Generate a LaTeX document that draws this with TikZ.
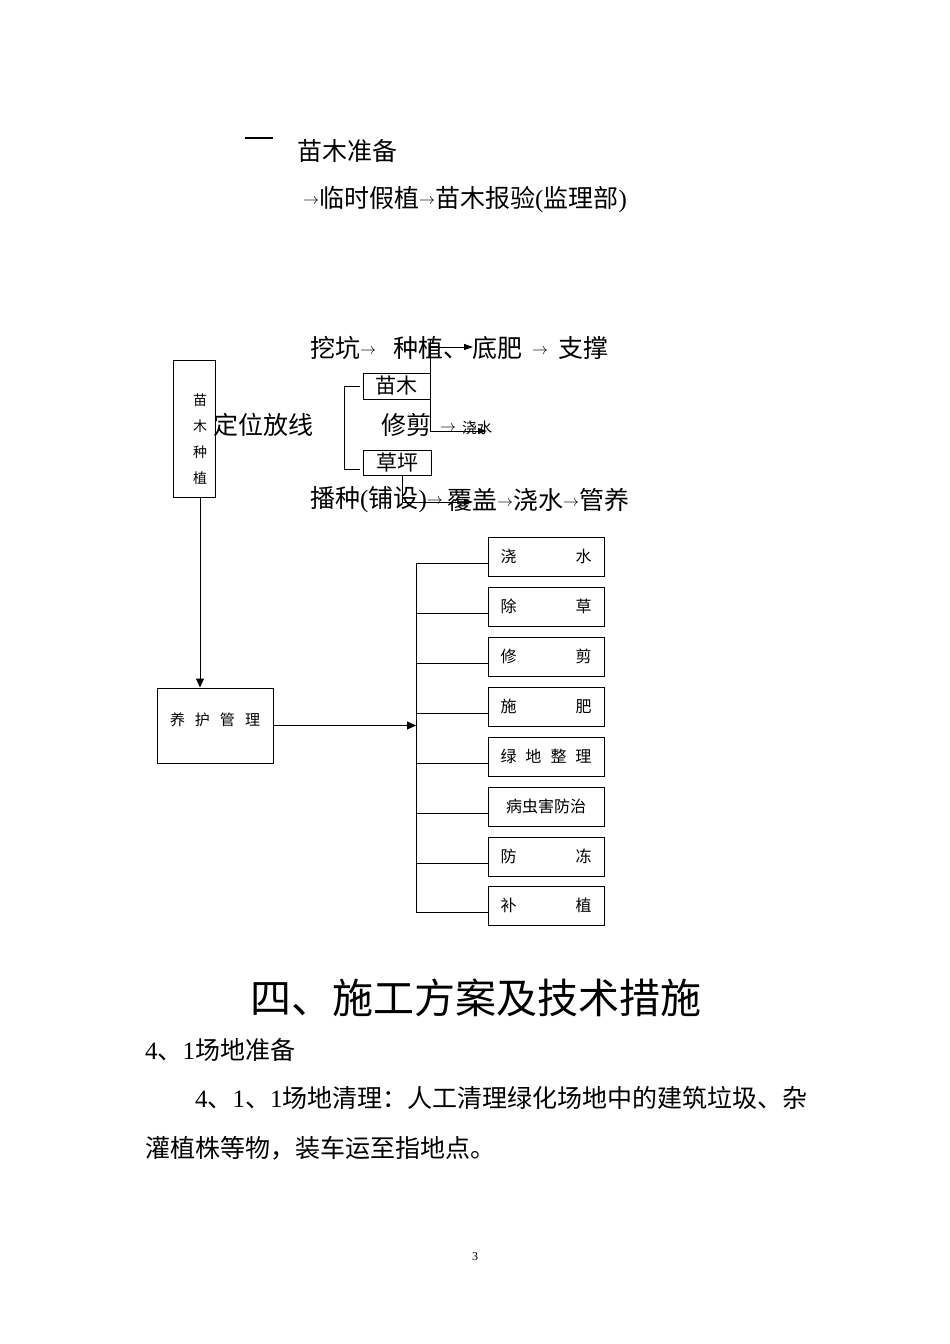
\documentclass[tikz,border=0pt]{standalone}
\usepackage{fontspec}
\usepackage{graphicx}
\setmainfont{Noto Sans CJK SC}
\newfontfamily\lat{Liberation Serif}
\usetikzlibrary{arrows.meta}
\newcommand\sar{\raisebox{3pt}{\scalebox{1.6}{\fontsize{10}{10}\selectfont$\rightarrow$}}}
\begin{document}
\begin{tikzpicture}[x=1pt,y=-1pt,
  txt/.style={anchor=west,inner sep=0pt,font=\fontsize{25}{25}\selectfont},
  box/.style={draw,line width=1pt,inner sep=0pt},
  ln/.style={line width=1pt},
  arr/.style={line width=1pt,-{Triangle[length=9pt,width=8pt]}},
  sarr/.style={line width=1pt,-{Triangle[length=9pt,width=6pt]}},
  mbox/.style={box,minimum width=116pt,minimum height=39pt,text width=91pt,align=left,font=\fontsize{16}{16}\selectfont}]
\useasboundingbox[fill=white] (0,0) rectangle (950,1344);

% top lines
\draw[line width=1.3pt] (245,138) -- (273,138);
\node[txt] (t1) at (297,151) {苗木准备};
\node[txt] (t2) at (303,200) {\sar 临时假植\sar 苗木报验{\lat (}监理部{\lat )}};

% planting flow
\node[txt] (l1a) at (310,348) {挖坑\sar};
\node[txt] (l1b) at (393,348) {种植、};
\node[txt] (l1c) at (472,348) {底肥\hspace{10pt}\sar\hspace{10pt}支撑};
\node[txt] (dw) at (213,425) {定位放线};
\node[txt] (xj) at (381,425) {修剪\hspace{9pt}\sar};
\node[anchor=west,inner sep=0pt,font=\fontsize{15}{15}\selectfont] (js) at (462,428) {浇水};
\node[txt] (l3a) at (310,500) {播种{\lat (}铺设{\lat )}\sar};
\node[txt] (l3b) at (447,500) {覆盖\sar 浇水\sar 管养};

\node[box,minimum width=42pt,minimum height=137pt] (mz) at (194,428.5) {};
\node[inner sep=0pt,font=\fontsize{14}{26}\selectfont,align=center] (mzt) at (200,439) {苗\\木\\种\\植};

\node[box,minimum width=67pt,minimum height=26pt,font=\fontsize{21}{21}\selectfont] (mm) at (396.5,386) {苗木};
\node[box,minimum width=68pt,minimum height=25pt,font=\fontsize{21}{21}\selectfont] (cp) at (397,462.5) {草坪};

\draw[ln] ([xshift=-3pt]mm.west) -- ++(-15,0) |- ([xshift=-3pt,yshift=-7pt]cp.west);
\draw[ln] (mm.east |- 0,340) -- (mm.east |- 0,432);
\coordinate (dfpt) at (473,347);
\draw[sarr] (mm.east |- dfpt) -- (dfpt);
\coordinate (jspt) at (487,431);
\draw[sarr] (mm.east |- jspt) -- (jspt);
\coordinate (cpdown) at ([xshift=5pt]cp.south);
\coordinate (fgpt) at (473,502);
\draw[sarr] (cpdown) |- (fgpt);

% maintenance
\node[box,minimum width=116pt,minimum height=75pt] (yh) at (215,725.5) {};
\node[inner sep=0pt,text width=90pt,align=left,font=\fontsize{15}{15}\selectfont] (yht) at (215,720) {养\hfill 护\hfill 管\hfill 理};
\draw[arr] (mzt.center |- mz.south) -- (mzt.center |- yh.north);

\node[mbox] (b1) at (546,556.5) {浇\hfill 水};
\node[mbox] (b2) at (546,606.5) {除\hfill 草};
\node[mbox] (b3) at (546,656.5) {修\hfill 剪};
\node[mbox] (b4) at (546,706.5) {施\hfill 肥};
\node[mbox] (b5) at (546,756.5) {绿\hfill 地\hfill 整\hfill 理};
\node[mbox,align=center] (b6) at (546,806.5) {病虫害防治};
\node[mbox] (b7) at (546,856.5) {防\hfill 冻};
\node[mbox] (b8) at (546,905.5) {补\hfill 植};

\coordinate (tr) at (416,725);
\draw[arr] (yh.east) -- (yh.east -| tr);
\draw[ln] ([yshift=-7pt]b1.west -| tr) -- ([yshift=-7pt]b8.west -| tr);
\foreach \n in {b1,b2,b3,b4,b5,b6,b7,b8}
  \draw[ln] ([yshift=-7pt]\n.west -| tr) -- ([yshift=-7pt]\n.west);

% text below
\node[inner sep=0pt,font=\fontsize{41}{41}\selectfont] (h) at (476,998) {四、施工方案及技术措施};
\node[txt] (p1) at (145,1050) {{\lat 4}、{\lat 1}场地准备};
\node[txt] (p2) at (195,1098) {{\lat 4}、{\lat 1}、{\lat 1}场地清理：人工清理绿化场地中的建筑垃圾、杂};
\node[txt] (p3) at (145,1148) {灌植株等物，装车运至指地点。};
\node[inner sep=0pt,font=\lat\fontsize{12}{12}\selectfont] (pg) at (475,1257) {3};
\end{tikzpicture}
\end{document}
